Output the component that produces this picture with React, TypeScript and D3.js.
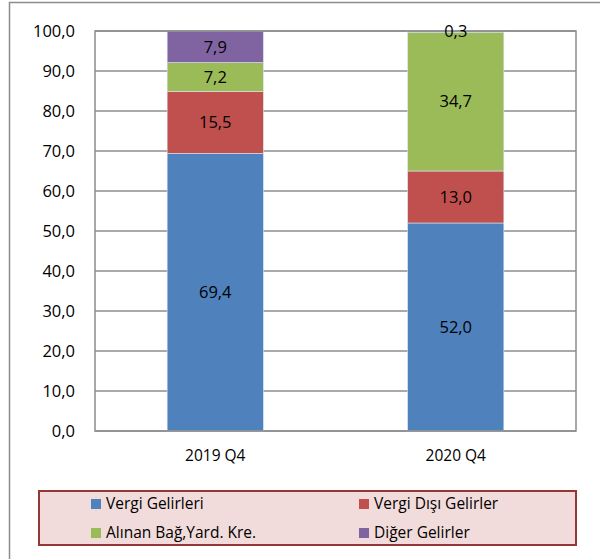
import React, { useEffect, useRef } from 'react';
import * as d3 from 'd3';

const categories = ['2019 Q4', '2020 Q4'];
const seriesNames = ['Vergi Gelirleri', 'Vergi Dışı Gelirler', 'Alınan Bağ,Yard. Kre.', 'Diğer Gelirler'];
const seriesColors = ['#4f81bd', '#c0504d', '#9bbb59', '#8064a2'];
const vergiGelirleri = [69.4, 52.0];
const vergiDisiGelirler = [15.5, 13.0];
const alinanBagYard = [7.2, 34.7];
const digerGelirler = [7.9, 0.3];
const yTicks = [0, 10, 20, 30, 40, 50, 60, 70, 80, 90, 100];

const W = 600;
const H = 559;
const font = "'Open Sans', 'Noto Sans', sans-serif";

const App: React.FC = () => {
  const ref = useRef<SVGSVGElement>(null);

  useEffect(() => {
    if (!ref.current) return;
    const svg = d3.select(ref.current);
    svg.selectAll('*').remove();

    const trLocale = d3.formatLocale({ decimal: ',', thousands: '.', grouping: [3], currency: ['', ''] });
    const fmt = trLocale.format('.1f');

    const margin = { left: 95, top: 31, right: 24, bottom: 128 };
    const plotW = W - margin.left - margin.right;
    const plotH = H - margin.top - margin.bottom;

    // outer chart frame
    svg.append('rect')
      .attr('x', 9.5).attr('y', 2.5)
      .attr('width', W + 10).attr('height', H + 10)
      .attr('fill', 'white').attr('stroke', '#8c8c8c').attr('stroke-width', 1.5);

    const x = d3.scaleBand<string>().domain(categories).range([margin.left, margin.left + plotW]).padding(0);
    const y = d3.scaleLinear().domain([0, 100]).range([margin.top + plotH, margin.top]);

    const g = svg.append('g');

    // gridlines
    g.selectAll('line.grid')
      .data(yTicks)
      .enter().append('line')
      .attr('x1', margin.left).attr('x2', margin.left + plotW)
      .attr('y1', d => y(d)).attr('y2', d => y(d))
      .attr('stroke', '#8c8c8c').attr('stroke-width', 1.5);

    // stacked bars
    const rows = categories.map((c, i) => ({
      cat: c,
      'Vergi Gelirleri': vergiGelirleri[i],
      'Vergi Dışı Gelirler': vergiDisiGelirler[i],
      'Alınan Bağ,Yard. Kre.': alinanBagYard[i],
      'Diğer Gelirler': digerGelirler[i],
    }));
    const stack = d3.stack<any>().keys(seriesNames);
    const layers = stack(rows);
    const bw = x.bandwidth() * 0.4;

    layers.forEach((layer, li) => {
      g.selectAll(`rect.s${li}`)
        .data(layer)
        .enter().append('rect')
        .attr('x', d => (x(d.data.cat) as number) + x.bandwidth() * 0.3)
        .attr('width', bw)
        .attr('y', d => y(d[1]))
        .attr('height', d => y(d[0]) - y(d[1]))
        .attr('fill', seriesColors[li])
        .attr('stroke', '#dbe5f1')
        .attr('stroke-width', 0.6);
    });

    // plot frame
    g.append('rect')
      .attr('x', margin.left).attr('y', margin.top)
      .attr('width', plotW).attr('height', plotH)
      .attr('fill', 'none').attr('stroke', '#8c8c8c').attr('stroke-width', 1.5);

    // data labels
    layers.forEach(layer => {
      g.selectAll(null)
        .data(layer)
        .enter().append('text')
        .attr('x', d => (x(d.data.cat) as number) + x.bandwidth() / 2)
        .attr('y', d => (y(d[0]) + y(d[1])) / 2)
        .attr('dy', '0.35em')
        .attr('text-anchor', 'middle')
        .attr('font-family', font)
        .attr('font-size', 16.5)
        .attr('fill', '#000')
        .text(d => fmt(d[1] - d[0]));
    });

    // y axis labels
    g.selectAll(null)
      .data(yTicks)
      .enter().append('text')
      .attr('x', 75)
      .attr('y', d => y(d))
      .attr('dy', '0.35em')
      .attr('text-anchor', 'end')
      .attr('font-family', font)
      .attr('font-size', 16.5)
      .attr('fill', '#000')
      .text(d => fmt(d));

    // x axis labels
    g.selectAll(null)
      .data(categories)
      .enter().append('text')
      .attr('x', d => (x(d) as number) + x.bandwidth() / 2)
      .attr('y', 456)
      .attr('dy', '0.35em')
      .attr('text-anchor', 'middle')
      .attr('font-family', font)
      .attr('font-size', 15.5)
      .attr('fill', '#000')
      .text(d => d);

    // legend
    const legend = svg.append('g');
    legend.append('rect')
      .attr('x', 39).attr('y', 491)
      .attr('width', 537).attr('height', 54)
      .attr('fill', '#f2dcdb').attr('stroke', '#953735').attr('stroke-width', 2);

    const legX = [91, 359];
    const legY = [504, 533];
    seriesNames.forEach((name, i) => {
      const lx = legX[i % 2];
      const ly = legY[Math.floor(i / 2)];
      legend.append('rect')
        .attr('x', lx).attr('y', ly - 5)
        .attr('width', 10).attr('height', 10)
        .attr('fill', seriesColors[i]);
      legend.append('text')
        .attr('x', lx + 15).attr('y', ly)
        .attr('dy', '0.35em')
        .attr('font-family', font)
        .attr('font-size', 15.5)
        .attr('fill', '#000')
        .text(name);
    });
  }, []);

  return (
    <svg
      ref={ref}
      width={W}
      height={H}
      style={{ position: 'absolute', left: 0, top: 0, display: 'block' }}
    />
  );
};

export default App;
